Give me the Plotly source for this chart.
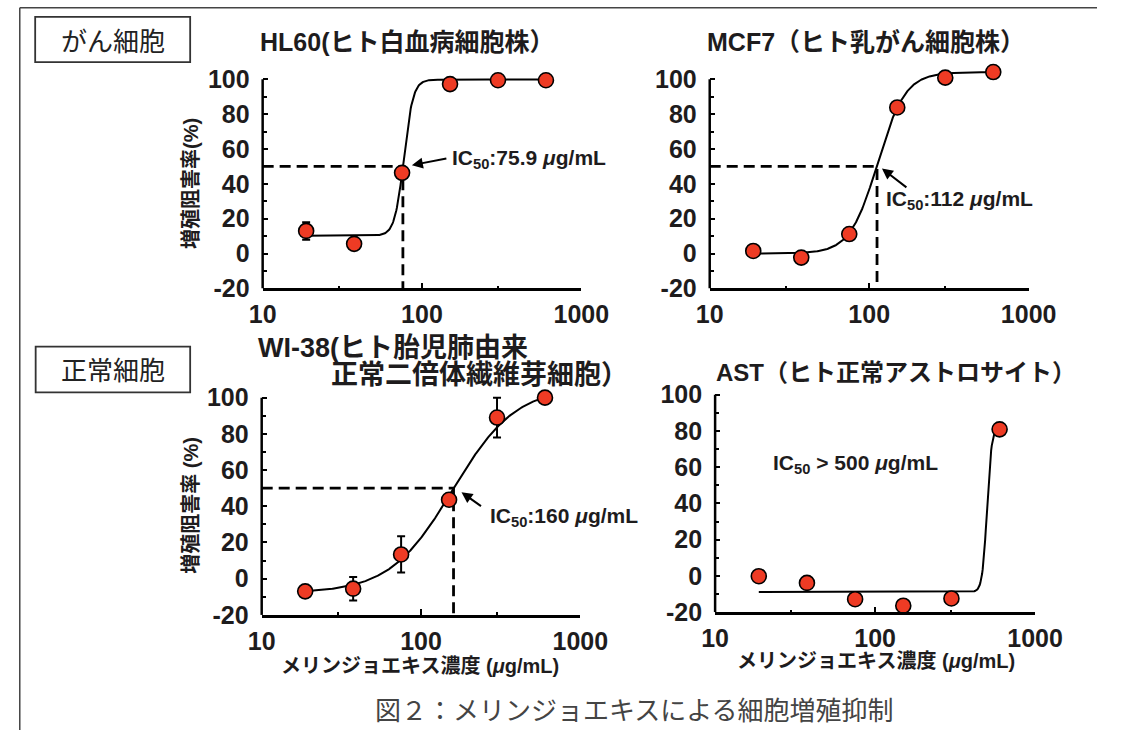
import numpy as np
import plotly.graph_objects as go

W, H = 1125, 744

# Melinjo extract concentrations (µg/mL)
conc = [18.75, 37.5, 75, 150, 300, 600]

# Growth inhibition (%) per cell line
hl60 = [13.0, 5.6, 46.3, 97.2, 99.4, 99.4]
hl60_err = [5.0, 0, 0, 0, 0, 0]
mcf7 = [1.5, -2.3, 11.2, 83.8, 100.9, 104.1]
mcf7_err = [0, 0, 0, 0, 0, 0]
wi38 = [-7.0, -5.5, 13.4, 43.6, 89.0, 100.0]
wi38_err = [0, 6.5, 10.0, 0, 11.0, 0]
ast = [-0.1, -3.8, -12.8, -16.4, -12.4, 80.9]
ast_err = [0, 0, 0, 0, 0, 0]

# 4-parameter logistic fits: (bottom, top, midpoint, Hill slope)
fit_hl60 = (10.2, 99.8, 77.0, 15.0)
fit_mcf7 = (0.0, 104.0, 113.0, 5.0)
fit_wi38 = (-8.0, 106.0, 158.0, 2.2)
fit_ast = (-8.8, 82.0, 500.0, 30.0)

# IC50 values (µg/mL)
ic50_hl60 = 75.9
ic50_mcf7 = 112
ic50_wi38 = 160

x_tickvals = [10, 100, 1000]
y_tickvals = [-20, 0, 20, 40, 60, 80, 100]

FONT = "Liberation Sans, Arial, Noto Sans CJK JP, sans-serif"
CJK = "Noto Sans CJK JP, sans-serif"
INK = "#1e1c1d"
RED = "#EE3B24"


def fx(p):
    return p / W


def fy(p):
    return 1 - p / H


def logistic(x, fit):
    b, t, m, h = fit
    x = np.asarray(x, dtype=float)
    return b + (t - b) / (1 + (m / x) ** h)


panels = [
    dict(n="", xdom=(258.3, 589.3), ydom=(66.5, 294.0), y=hl60, err=hl60_err,
         fit=fit_hl60, ic50=ic50_hl60),
    dict(n="2", xdom=(722.7, 1054.0), ydom=(66.5, 294.0), y=mcf7, err=mcf7_err,
         fit=fit_mcf7, ic50=ic50_mcf7),
    dict(n="3", xdom=(257.3, 588.3), ydom=(390.5, 626.7), y=wi38, err=wi38_err,
         fit=fit_wi38, ic50=ic50_wi38),
    dict(n="4", xdom=(728.3, 1060.7), ydom=(387.5, 624.0), y=ast, err=ast_err,
         fit=fit_ast, ic50=None),
]

fig = go.Figure()
layout = dict(
    width=W, height=H, margin=dict(l=0, r=0, t=0, b=0),
    paper_bgcolor="white", plot_bgcolor="white", showlegend=False,
    font=dict(family=FONT, color=INK),
)
shapes = []
annotations = []

xs_curve = np.logspace(np.log10(conc[0]), np.log10(conc[-1]), 400)

for p in panels:
    n = p["n"]
    xa, ya = "x" + n, "y" + n
    layout["xaxis" + n] = dict(
        type="log", range=[1, 3], domain=[fx(p["xdom"][0]), fx(p["xdom"][1])],
        anchor=ya, showline=True, linecolor="black", linewidth=2.5,
        ticks="inside", ticklen=6, tickwidth=2, tickcolor="black",
        tickmode="array", tickvals=x_tickvals,
        ticktext=["<b>%d</b>" % v for v in x_tickvals],
        tickfont=dict(family=FONT, size=25, color=INK),
        minor=dict(tickmode="array", tickvals=[30, 300], ticks="inside",
                   ticklen=3, tickwidth=2, tickcolor="black"),
        showgrid=False, zeroline=False, ticklabelstandoff=2,
    )
    layout["yaxis" + n] = dict(
        range=[-20, 108], domain=[fy(p["ydom"][1]), fy(p["ydom"][0])],
        anchor=xa, showline=False,
        ticks="inside", ticklen=5, tickwidth=2, tickcolor="black",
        tickmode="array", tickvals=y_tickvals,
        ticktext=["<b>%d</b>" % v for v in y_tickvals],
        tickfont=dict(family=FONT, size=25, color=INK),
        minor=dict(tickmode="array", tickvals=[-10, 10, 30, 50, 70, 90],
                   ticks="inside", ticklen=4, tickwidth=2, tickcolor="black"),
        showgrid=False, zeroline=False, ticklabelstandoff=12,
    )
    # y axis line spanning -20..100
    shapes.append(dict(type="line", xref=xa + " domain", yref=ya,
                       x0=0, x1=0, y0=-20, y1=100,
                       line=dict(color="black", width=2.5)))

    # IC50 guide lines
    if p["ic50"] is not None:
        fig.add_trace(go.Scatter(
            x=[10, p["ic50"], p["ic50"]], y=[50, 50, -20], mode="lines",
            line=dict(color="black", width=2.8, dash="11px,6px"),
            xaxis=xa, yaxis=ya, hoverinfo="skip"))

    # fitted curve
    fig.add_trace(go.Scatter(
        x=xs_curve, y=logistic(xs_curve, p["fit"]), mode="lines",
        line=dict(color="black", width=2), xaxis=xa, yaxis=ya, hoverinfo="skip"))

    # measured points
    fig.add_trace(go.Scatter(
        x=conc, y=p["y"], mode="markers",
        marker=dict(size=15, color=RED, line=dict(color="black", width=1.6)),
        error_y=dict(type="data", array=p["err"], color="black", thickness=2, width=4),
        xaxis=xa, yaxis=ya, cliponaxis=False))


def text(x, y, s, size, xanchor="center", angle=0, family=FONT, color=INK):
    annotations.append(dict(
        x=fx(x), y=fy(y), xref="paper", yref="paper", text=s, showarrow=False,
        xanchor=xanchor, yanchor="middle", textangle=angle,
        font=dict(family=family, size=size, color=color)))


def arrow(n, hx, hy, dx, dy):
    annotations.append(dict(
        x=np.log10(hx), y=hy, xref="x" + n, yref="y" + n, ax=dx, ay=dy,
        text="", showarrow=True, arrowhead=2, arrowsize=1.1, arrowwidth=2,
        arrowcolor="black", standoff=0))


# panel titles
text(253, 43, "<b>HL60(ヒト白血病細胞株）</b>", 25, xanchor="left")
text(718, 43, "<b>MCF7（ヒト乳がん細胞株）</b>", 25, xanchor="left")
text(251.5, 355, "<b>WI-38(ヒト胎児肺由来</b>", 27, xanchor="left")
text(327.4, 382.7, "<b>正常二倍体繊維芽細胞）</b>", 27, xanchor="left")
text(727.3, 380, "<b>AST（ヒト正常アストロサイト）</b>", 24, xanchor="left")

# IC50 labels
text(452.7, 161.7, "<b>IC<sub>50</sub>:%.1f <i>μ</i>g/mL</b>" % ic50_hl60, 21, xanchor="left")
text(904, 204, "<b>IC<sub>50</sub>:%d <i>μ</i>g/mL</b>" % ic50_mcf7, 21, xanchor="left")
text(492.2, 526.7, "<b>IC<sub>50</sub>:%d <i>μ</i>g/mL</b>" % ic50_wi38, 21, xanchor="left")
text(786.7, 473.3, "<b>IC<sub>50</sub> > 500 <i>μ</i>g/mL</b>", 21, xanchor="left")

arrow("", 86.4, 50.7, 36, -7)
arrow("2", 120.2, 48.8, 26, 20)
arrow("3", 179.5, 47.8, 21, 15)

# axis titles
text(183.7, 186.7, "<b>増殖阻害率(%)</b>", 20, angle=-90)
text(184.3, 515, "<b>増殖阻害率 (%)</b>", 20, angle=-90)
text(421.6, 678.3, "<b>メリンジョエキス濃度 (<i>μ</i>g/mL)</b>", 20)
text(895.5, 673.3, "<b>メリンジョエキス濃度 (<i>μ</i>g/mL)</b>", 20)

# group labels
shapes.append(dict(type="rect", xref="paper", yref="paper",
                   x0=fx(22), x1=fx(183), y0=fy(63.3), y1=fy(17.3),
                   line=dict(color="#333333", width=1.8)))
text(102.5, 40.5, "がん細胞", 26, family=CJK, color="#222222")
shapes.append(dict(type="rect", xref="paper", yref="paper",
                   x0=fx(22.5), x1=fx(183), y0=fy(400), y1=fy(353.3),
                   line=dict(color="#333333", width=1.8)))
text(103, 376, "正常細胞", 26, family=CJK, color="#222222")

# caption
text(644, 722, "図２：メリンジョエキスによる細胞増殖抑制", 26, family=CJK, color="#444444")

# outer frame (top and left edges)
shapes.append(dict(type="line", xref="paper", yref="paper",
                   x0=fx(6), x1=1, y0=fy(8), y1=fy(8),
                   line=dict(color="#444444", width=1.5)))
shapes.append(dict(type="line", xref="paper", yref="paper",
                   x0=fx(6), x1=fx(6), y0=fy(8), y1=0,
                   line=dict(color="#444444", width=1.5)))

layout["shapes"] = shapes
layout["annotations"] = annotations
fig.update_layout(**layout)
fig.write_html("out.html")
